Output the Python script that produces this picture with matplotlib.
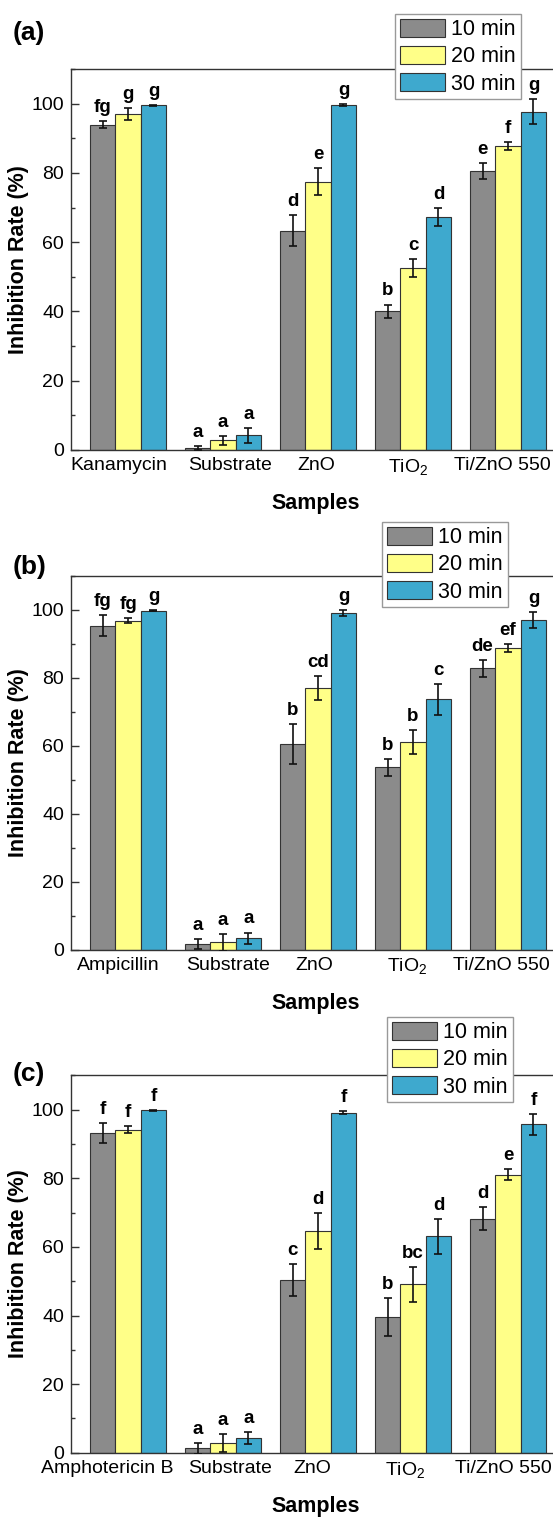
import matplotlib
matplotlib.use("Agg")
import matplotlib.pyplot as plt
from matplotlib.ticker import MultipleLocator
from matplotlib.transforms import ScaledTranslation
import numpy as np

plt.rcParams['font.family'] = ['Liberation Sans', 'DejaVu Sans']
plt.rcParams['mathtext.fontset'] = 'custom'
plt.rcParams['mathtext.rm'] = 'Liberation Sans'
plt.rcParams['mathtext.it'] = 'Liberation Sans:italic'
plt.rcParams['mathtext.bf'] = 'Liberation Sans:bold'

# legend / series
times = ['10 min', '20 min', '30 min']
colors = ['#8b8b8b', '#ffff88', '#3ea9ce']

# panel (a)
samples_a = ['Kanamycin', 'Substrate', 'ZnO', 'TiO$_2$', 'Ti/ZnO 550']
means_a = [[93.9, 0.6, 63.3, 40.0, 80.6],
           [97.0, 2.8, 77.5, 52.5, 87.7],
           [99.5, 4.2, 99.6, 67.2, 97.7]]
errs_a = [[1.0, 0.6, 4.5, 2.0, 2.3],
          [1.8, 1.3, 4.0, 2.6, 1.1],
          [0.2, 2.1, 0.2, 2.6, 3.5]]
letters_a = [['fg', 'a', 'd', 'b', 'e'],
             ['g', 'a', 'e', 'c', 'f'],
             ['g', 'a', 'g', 'd', 'g']]

# panel (b)
samples_b = ['Ampicillin', 'Substrate', 'ZnO', 'TiO$_2$', 'Ti/ZnO 550']
means_b = [[95.4, 1.7, 60.6, 53.7, 82.8],
           [96.8, 2.1, 77.1, 61.2, 88.8],
           [99.8, 3.3, 99.1, 73.7, 97.1]]
errs_b = [[3.0, 1.5, 5.9, 2.5, 2.5],
          [0.7, 2.6, 3.5, 3.5, 1.3],
          [0.2, 1.7, 0.8, 4.5, 2.4]]
letters_b = [['fg', 'a', 'b', 'b', 'de'],
             ['fg', 'a', 'cd', 'b', 'ef'],
             ['g', 'a', 'g', 'c', 'g']]

# panel (c)
samples_c = ['Amphotericin B', 'Substrate', 'ZnO', 'TiO$_2$', 'Ti/ZnO 550']
means_c = [[93.2, 1.3, 50.4, 39.5, 68.2],
           [94.2, 2.9, 64.7, 49.1, 81.1],
           [99.8, 4.2, 99.1, 63.1, 95.7]]
errs_c = [[2.9, 1.6, 4.7, 5.6, 3.3],
          [1.0, 2.6, 5.2, 5.1, 1.5],
          [0.2, 1.7, 0.4, 5.1, 3.0]]
letters_c = [['f', 'a', 'c', 'b', 'd'],
             ['f', 'a', 'd', 'bc', 'e'],
             ['f', 'a', 'f', 'd', 'f']]

W, H = 553, 1517
fig = plt.figure(figsize=(W / 100, H / 100), dpi=100)

def px_rect(left, top, right, bottom):
    return [left / W, 1 - bottom / H, (right - left) / W, (bottom - top) / H]

# per-panel: tag, data, axes top/bottom (px), tag y, legend corner, label nudges (px)
panels = [
    ('(a)', samples_a, means_a, errs_a, letters_a, (69, 450), 33, (395, 14),
     [-9, 7, -2, -5, -6]),
    ('(b)', samples_b, means_b, errs_b, letters_b, (576, 949.5), 567, (382, 522),
     [-10, 5, -4, -6, -7]),
    ('(c)', samples_c, means_c, errs_c, letters_c, (1075.4, 1452.7), 1074, (387, 1017),
     [-21, 7, -6, -8, -5]),
]

bw = 0.268
for tag, samples, means, errs, letters, (top, bot), tag_y, (lx, ly), nudges in panels:
    ax = fig.add_axes(px_rect(71, top, 565, bot))
    x = np.arange(len(samples))
    for j in range(3):
        xs = x + (j - 1) * bw
        ax.bar(xs, means[j], bw, color=colors[j], edgecolor='#333333',
               linewidth=0.8, label=times[j], zorder=2)
        ax.errorbar(xs, means[j], yerr=errs[j], fmt='none', ecolor='#111111',
                    elinewidth=1.2, capsize=3.2, capthick=1.2, zorder=3)
        for xi, m, e, t in zip(xs, means[j], errs[j], letters[j]):
            ax.annotate(t, (xi, m + e), xytext=(0, 6.5), textcoords='offset points',
                        ha='center', va='baseline', fontsize=13.5, fontweight='bold')
    ax.set_xlim(-0.6, 4.6)
    ax.set_ylim(0, 110)
    ax.set_xticks(x)
    ax.set_xticklabels([])
    # category names drawn as text so each one can sit where the original has it
    for xi, name, dx in zip(x, samples, nudges):
        ax.text(xi, 0, name, fontsize=14, ha='center', va='top',
                transform=ax.get_xaxis_transform() + ScaledTranslation(dx / 100, -0.07, fig.dpi_scale_trans))
    ax.yaxis.set_major_locator(MultipleLocator(20))
    ax.yaxis.set_minor_locator(MultipleLocator(10))
    ax.tick_params(axis='both', which='major', direction='in', labelsize=14,
                   length=5.5, width=1, color='#333333')
    ax.tick_params(axis='y', pad=5)
    ax.tick_params(axis='y', which='minor', direction='in', length=3, width=1,
                   color='#333333')
    for s in ax.spines.values():
        s.set_linewidth(1.0)
        s.set_color('#333333')
    ax.set_ylabel('Inhibition Rate (%)', fontsize=15.5, fontweight='bold', labelpad=2)
    fig.text(316 / W, 1 - (bot + 54) / H, 'Samples', fontsize=15.5, fontweight='bold',
             ha='center', va='center')
    leg = ax.legend(loc='upper left', bbox_to_anchor=(lx / W, 1 - ly / H),
                    bbox_transform=fig.transFigure, fontsize=15.5, frameon=True,
                    fancybox=False, framealpha=1, edgecolor='#999999',
                    handlelength=2.1, handleheight=0.95, handletextpad=0.3,
                    labelspacing=0.25, borderpad=0.22, borderaxespad=0)
    leg.get_frame().set_linewidth(1.0)
    leg.set_zorder(5)
    fig.text(13 / W, 1 - tag_y / H, tag, fontsize=19, fontweight='bold',
             ha='left', va='center')

fig.savefig('out.png', dpi=100)
